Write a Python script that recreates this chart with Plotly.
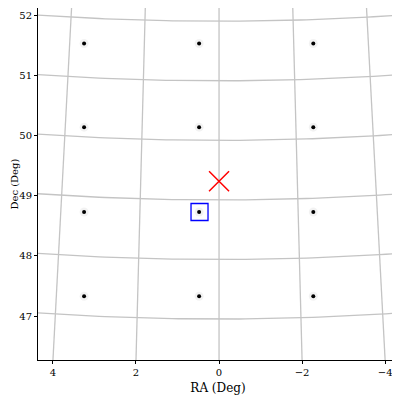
import numpy as np
import plotly.graph_objects as go

# star positions (RA, Dec)
star_ra = [3.25, 0.48, -2.27] * 4
star_dec = [51.53] * 3 + [50.14] * 3 + [48.73] * 3 + [47.33] * 3
# pointing centre and selected source
centre_ra, centre_dec = [0.0], [49.24]
sel_ra, sel_dec = [0.47], [48.73]
# grid lines: RA values at bottom edge, Dec line levels at RA=0
grid_ra = [4, 2, 0, -2, -4]
grid_dec = [51.9, 50.91, 49.92, 48.93, 47.94, 46.95]

x_range = [4.36, -4.31]
y_range = [46.27, 52.12]
pole_y = 98.5

fig = go.Figure()

# curved coordinate grid
for ra in grid_ra:
    ys = np.array([y_range[0], 52.2])
    xs = ra * (pole_y - ys) / (pole_y - y_range[0])
    fig.add_trace(go.Scatter(x=xs, y=ys, mode="lines", line=dict(color="#c4c4c4", width=1.3),
                             hoverinfo="skip", showlegend=False))
xx = np.linspace(x_range[0], x_range[1], 60)
for d in grid_dec:
    fig.add_trace(go.Scatter(x=xx, y=d + 0.0054 * xx**2, mode="lines",
                             line=dict(color="#c4c4c4", width=1.3), hoverinfo="skip", showlegend=False))

# stars
fig.add_trace(go.Scatter(x=star_ra, y=star_dec, mode="markers",
                         marker=dict(color="rgba(0,0,0,0.05)", size=9, line=dict(width=0)), showlegend=False))
fig.add_trace(go.Scatter(x=star_ra, y=star_dec, mode="markers",
                         marker=dict(color="black", size=4, line=dict(width=0)), showlegend=False))

fig.add_trace(go.Scatter(x=centre_ra, y=centre_dec, mode="markers",
                         marker=dict(symbol="x-thin", size=20, line=dict(color="red", width=1.5)), showlegend=False))
fig.add_trace(go.Scatter(x=sel_ra, y=sel_dec, mode="markers",
                         marker=dict(symbol="square-open", size=17, color="blue", line=dict(color="blue", width=1.3)),
                         showlegend=False))

axis = dict(showgrid=False, zeroline=False, showline=True, linecolor="black", linewidth=1,
            mirror=True, ticks="outside", ticklen=3, tickcolor="black", automargin=False)
fig.update_layout(
    width=392, height=392,
    margin=dict(l=30, r=2, t=0, b=40),
    plot_bgcolor="white", paper_bgcolor="white",
    font=dict(family="DejaVu Serif", size=10, color="black"),
    xaxis=dict(axis, range=x_range, tickvals=[4, 2, 0, -2, -4], ticktext=["4", "2", "0", "\u22122", "\u22124"],
               title=dict(text="RA (Deg)", standoff=6)),
    yaxis=dict(axis, range=y_range, tickvals=[47, 48, 49, 50, 51, 52]),
    annotations=[dict(text="Dec (Deg)", textangle=-90, xref="paper", yref="paper",
                      x=-0.068, y=0.5, xanchor="center", yanchor="middle", showarrow=False)],
)

fig.write_html("out.html")
